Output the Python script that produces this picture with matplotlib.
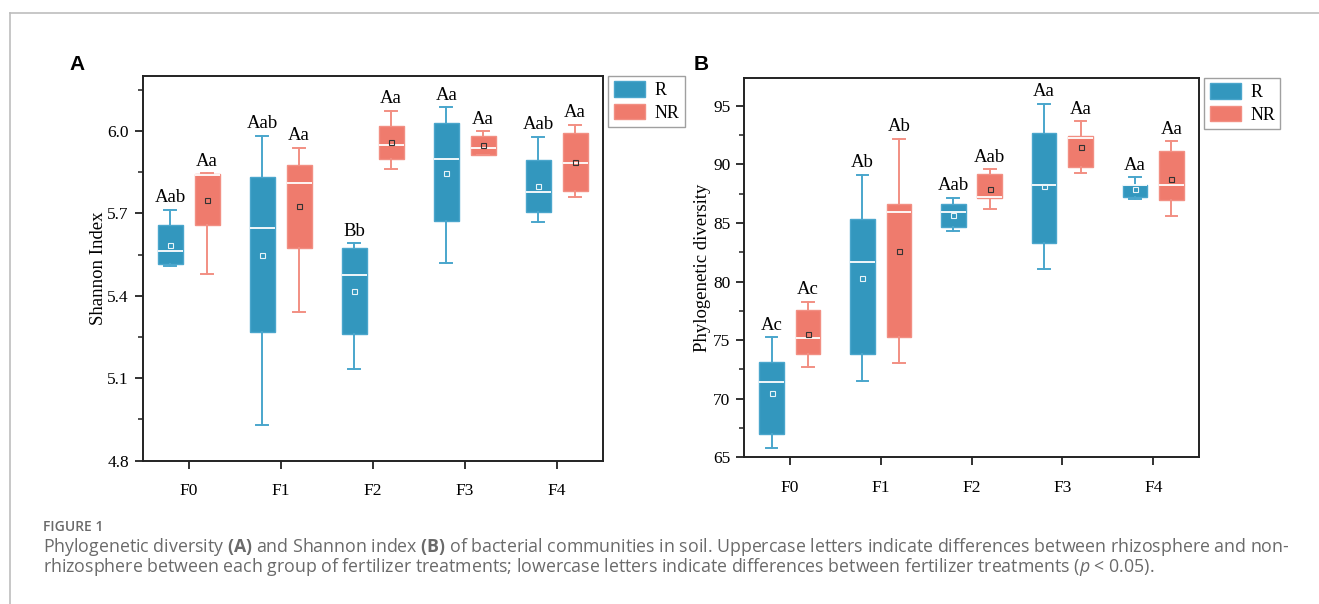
import matplotlib
matplotlib.use("Agg")
import matplotlib.pyplot as plt
from matplotlib.patches import Patch
from matplotlib.lines import Line2D
from matplotlib.ticker import MultipleLocator, FormatStrFormatter

plt.rcParams['mathtext.fontset'] = 'custom'
plt.rcParams['mathtext.rm'] = 'Open Sans'
plt.rcParams['mathtext.bf'] = 'Open Sans:bold'
plt.rcParams['mathtext.it'] = 'Open Sans:italic'

groups = ["F0", "F1", "F2", "F3", "F4"]

# panel A - Shannon index (whisker low, q1, median, q3, whisker high, mean)
shan_R_lo = [5.507, 4.928, 5.134, 5.520, 5.669]
shan_R_q1 = [5.514, 5.269, 5.261, 5.672, 5.705]
shan_R_med = [5.563, 5.646, 5.475, 5.897, 5.778]
shan_R_q3 = [5.657, 5.832, 5.575, 6.028, 5.896]
shan_R_hi = [5.712, 5.982, 5.591, 6.086, 5.978]
shan_R_mean = [5.586, 5.550, 5.418, 5.847, 5.801]
shan_R_lab = ["Aab", "Aab", "Bb", "Aa", "Aab"]

shan_NR_lo = [5.481, 5.342, 5.860, 5.913, 5.760]
shan_NR_q1 = [5.657, 5.574, 5.897, 5.913, 5.781]
shan_NR_med = [5.839, 5.812, 5.949, 5.939, 5.883]
shan_NR_q3 = [5.844, 5.877, 6.018, 5.982, 5.993]
shan_NR_hi = [5.846, 5.939, 6.073, 5.999, 6.022]
shan_NR_mean = [5.750, 5.726, 5.961, 5.949, 5.888]
shan_NR_lab = ["Aa", "Aa", "Aa", "Aa", "Aa"]

# panel B - phylogenetic diversity
pd_R_lo = [65.79, 71.52, 84.33, 81.11, 87.03]
pd_R_q1 = [66.99, 73.85, 84.69, 83.33, 87.23]
pd_R_med = [71.43, 81.70, 85.95, 88.28, 88.20]
pd_R_q3 = [73.11, 85.38, 86.63, 92.72, 88.28]
pd_R_hi = [75.25, 89.13, 87.14, 95.15, 88.88]
pd_R_mean = [70.52, 80.28, 85.72, 88.14, 87.94]
pd_R_lab = ["Ac", "Ab", "Aab", "Aa", "Aa"]

pd_NR_lo = [72.71, 73.08, 86.18, 89.28, 85.61]
pd_NR_q1 = [73.82, 75.27, 87.14, 89.76, 86.95]
pd_NR_med = [75.16, 85.95, 87.23, 92.24, 88.25]
pd_NR_q3 = [77.55, 86.63, 89.22, 92.38, 91.13]
pd_NR_hi = [78.29, 92.16, 89.59, 93.66, 91.98]
pd_NR_mean = [75.50, 82.59, 87.91, 91.47, 88.77]
pd_NR_lab = ["Ac", "Ab", "Aab", "Aa", "Aa"]

BLUE = "#3397be"
BLUE_LT = "#4aa6cc"
RED = "#ef7b6d"
RED_LT = "#f28f83"
SERIF = "Liberation Serif"


def make_stats(lo, q1, med, q3, hi, mean):
    out = []
    for i in range(len(lo)):
        out.append(dict(whislo=lo[i], q1=q1[i], med=med[i], q3=q3[i],
                        whishi=hi[i], mean=mean[i], fliers=[]))
    return out


def draw_series(ax, stats, offset, col, col_lt, mean_edge, labels):
    pos = [i + offset for i in range(len(stats))]
    ax.bxp(stats, positions=pos, widths=0.27, capwidths=0.13,
           patch_artist=True, showmeans=True, manage_ticks=False,
           boxprops=dict(facecolor=col, edgecolor=col_lt, linewidth=1.0),
           medianprops=dict(color="white", linewidth=1.3),
           whiskerprops=dict(color=col_lt, linewidth=1.4),
           capprops=dict(color=col_lt, linewidth=1.4),
           meanprops=dict(marker="s", markersize=3.6, markerfacecolor="none",
                          markeredgecolor=mean_edge, markeredgewidth=0.8))
    for p, s, lab in zip(pos, stats, labels):
        ax.annotate(lab, (p, s["whishi"]), xytext=(0, 5.5),
                    textcoords="offset points", ha="center", va="baseline",
                    fontsize=13.5, family=SERIF)


def style_axes(ax, ylim, major, minor, ylabel, lpad):
    ax.set_xlim(-0.5, 4.5)
    ax.set_ylim(*ylim)
    ax.set_xticks(range(len(groups)))
    ax.set_xticklabels(groups)
    ax.yaxis.set_major_locator(MultipleLocator(major))
    ax.yaxis.set_minor_locator(MultipleLocator(minor))
    ax.set_ylabel(ylabel, fontsize=13.5, family=SERIF, labelpad=lpad)
    for sp in ax.spines.values():
        sp.set_linewidth(1.4)
        sp.set_color("#222222")
    ax.tick_params(axis="both", which="major", direction="out", length=6,
                   width=1.3, color="#222222", labelsize=12.5, pad=4)
    ax.tick_params(axis="y", which="minor", direction="out", length=3.5,
                   width=1.1, color="#222222")
    ax.tick_params(axis="x", which="minor", bottom=False)
    ax.tick_params(axis="x", pad=10)
    for t in ax.get_xticklabels() + ax.get_yticklabels():
        t.set_family(SERIF)
    handles = [Patch(facecolor=BLUE, edgecolor=BLUE_LT, label="R"),
               Patch(facecolor=RED, edgecolor=RED_LT, label="NR")]
    leg = ax.legend(handles=handles, loc="upper left",
                    bbox_to_anchor=(1.012, 1.0), fancybox=False,
                    prop=dict(family=SERIF, size=13), handlelength=1.75,
                    handleheight=0.95, handletextpad=0.5, borderpad=0.3,
                    labelspacing=0.25, borderaxespad=0.0)
    leg.get_frame().set_edgecolor("#888888")
    leg.get_frame().set_linewidth(1.0)


fig = plt.figure(figsize=(13.19, 6.04), dpi=100)

axA = fig.add_axes([0.1082, 0.2373, 0.3488, 0.6369])
draw_series(axA, make_stats(shan_R_lo, shan_R_q1, shan_R_med, shan_R_q3,
                            shan_R_hi, shan_R_mean), -0.2, BLUE, BLUE_LT,
            "#e8f4f8", shan_R_lab)
draw_series(axA, make_stats(shan_NR_lo, shan_NR_q1, shan_NR_med, shan_NR_q3,
                            shan_NR_hi, shan_NR_mean), 0.2, RED, RED_LT,
            "#333333", shan_NR_lab)
style_axes(axA, (4.8, 6.2), 0.3, 0.15, "Shannon Index", 0)
axA.yaxis.set_major_formatter(FormatStrFormatter("%.1f"))

axB = fig.add_axes([0.5643, 0.2429, 0.3445, 0.6285])
draw_series(axB, make_stats(pd_R_lo, pd_R_q1, pd_R_med, pd_R_q3,
                            pd_R_hi, pd_R_mean), -0.2, BLUE, BLUE_LT,
            "#e8f4f8", pd_R_lab)
draw_series(axB, make_stats(pd_NR_lo, pd_NR_q1, pd_NR_med, pd_NR_q3,
                            pd_NR_hi, pd_NR_mean), 0.2, RED, RED_LT,
            "#333333", pd_NR_lab)
style_axes(axB, (65, 97.4), 5, 2.5, "Phylogenetic diversity", 1.5)

# panel letters
fig.text(69 / 1319, 1 - 64 / 604, "A", fontsize=15, fontweight="bold",
         family="Liberation Sans", va="center")
fig.text(694 / 1319, 1 - 64 / 604, "B", fontsize=15, fontweight="bold",
         family="Liberation Sans", va="center")

# page frame
fig.add_artist(Line2D([9.7 / 1319, 1.0], [1 - 13 / 604, 1 - 13 / 604],
                      color="#bdbdbd", lw=1.2))
fig.add_artist(Line2D([9.7 / 1319, 9.7 / 1319], [0.0, 1 - 13 / 604],
                      color="#bdbdbd", lw=1.2))

# caption
cap_col = "#6a6a6a"
fig.text(43 / 1319, 1 - 527 / 604, "FIGURE 1", fontsize=10,
         family="Open Sans", fontweight="semibold", color=cap_col, va="center")
line1 = ("Phylogenetic diversity $\\mathbf{(A)}$ and Shannon index "
         "$\\mathbf{(B)}$ of bacterial communities in soil. Uppercase letters "
         "indicate differences between rhizosphere and non-")
line2 = ("rhizosphere between each group of fertilizer treatments; lowercase "
         "letters indicate differences between fertilizer treatments "
         "($\\mathit{p}$ < 0.05).")
fig.text(43 / 1319, 1 - 547 / 604, line1, fontsize=12.8, family="Open Sans",
         color=cap_col, va="center")
fig.text(43 / 1319, 1 - 567 / 604, line2, fontsize=12.8, family="Open Sans",
         color=cap_col, va="center")

fig.savefig("out.png", dpi=100)
